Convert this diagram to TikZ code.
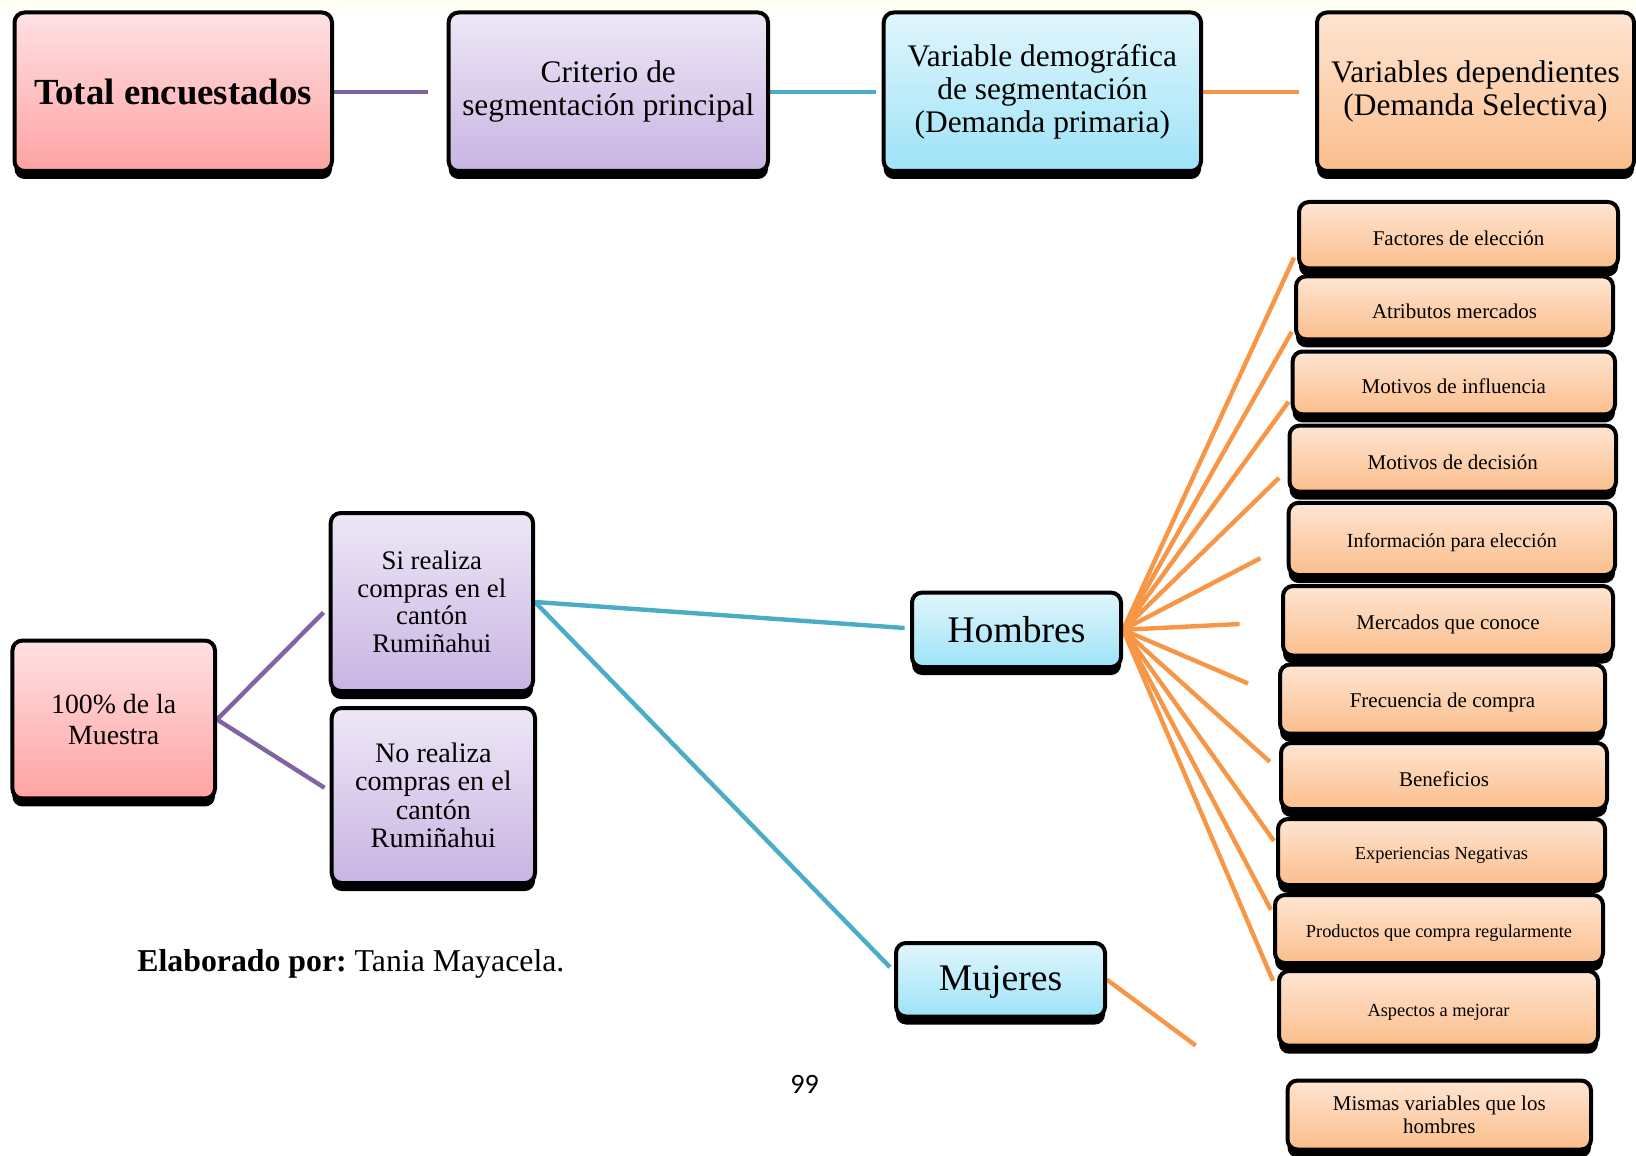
\documentclass[tikz,border=0pt]{standalone}
\usepackage{fontspec}
\setmainfont{Liberation Serif}
\newfontfamily\pagefont{Carlito}
\usetikzlibrary{shadows,backgrounds}
\frenchspacing
\definecolor{cpurple}{HTML}{8064A2}
\definecolor{cblue}{HTML}{4BACC6}
\definecolor{corange}{HTML}{F79646}
\definecolor{pinkT}{HTML}{FFE1E4}
\definecolor{pinkB}{HTML}{FFA2A2}
\definecolor{lilaT}{HTML}{EEE7F6}
\definecolor{lilaB}{HTML}{C8B4E3}
\definecolor{cyanT}{HTML}{E1F6FC}
\definecolor{cyanB}{HTML}{9DE3F8}
\definecolor{oraT}{HTML}{FEE5D2}
\definecolor{oraB}{HTML}{FBBE8C}
\definecolor{cream}{HTML}{FEFEF2}
\newcommand\dn[1]{\raisebox{-1.8pt}[\height][\depth]{#1}}
\tikzset{
  box/.style={rounded corners=5pt, draw=black, line width=2pt,
    drop shadow={opacity=1, fill=black, shadow xshift=0pt, shadow yshift=-4pt},
    align=center, inner sep=0pt, text=black},
  pinkbox/.style={box, top color=pinkT, bottom color=pinkB},
  lilabox/.style={box, top color=lilaT, bottom color=lilaB},
  cyanbox/.style={box, top color=cyanT, bottom color=cyanB},
  orabox/.style={box, top color=oraT, bottom color=oraB},
  toptext/.style={font=\fontsize{15.7}{16.6}\selectfont},
  itemA/.style={orabox, font=\fontsize{10.5}{11.5}\selectfont},
  itemB/.style={orabox, font=\fontsize{9.2}{10.5}\selectfont},
  link/.style={line width=2.2pt},
}
\begin{document}
\begin{tikzpicture}[x=0.5pt,y=-0.5pt]
\useasboundingbox (0,0) rectangle (1636,1155);
\fill[cream] (0,0) rectangle (1636,10);

% top row
\node[pinkbox, minimum width=158.75pt, minimum height=79.25pt,
      font=\bfseries\fontsize{18.4}{20}\selectfont] (total) at (173.25,91.75) {Total encuestados};
\node[lilabox, toptext, minimum width=159.7pt, minimum height=79.25pt] (crit) at (608.3,91.75)
  {Criterio de\\segmentación principal};
\node[cyanbox, toptext, minimum width=158.65pt, minimum height=79.25pt] (vdem) at (1042.35,91.75)
  {Variable demográfica\\de segmentación\\(Demanda primaria)};
\node[orabox, toptext, minimum width=158.5pt, minimum height=79.25pt] (vdep) at (1475.5,91.75)
  {Variables dependientes\\(Demanda Selectiva)};

% left part
\node[pinkbox, minimum width=101.3pt, minimum height=78.95pt,
      font=\fontsize{13.9}{15.25}\selectfont] (muestra) at (113.7,719.5) {100\% de la\\Muestra};
\node[lilabox, minimum width=101.15pt, minimum height=89pt,
      font=\fontsize{13.4}{13.75}\selectfont] (si) at (431.85,602) {Si realiza\\compras en el\\cantón\\Rumiñahui};
\node[lilabox, minimum width=101.65pt, minimum height=87.5pt,
      font=\fontsize{14.1}{14.25}\selectfont] (no) at (433.35,795.5) {No realiza\\compras en el\\cantón\\Rumiñahui};
\node[cyanbox, minimum width=104.5pt, minimum height=37.2pt,
      font=\fontsize{18.8}{20}\selectfont] (hom) at (1016.5,629.8) {Hombres};
\node[cyanbox, minimum width=104.5pt, minimum height=36.75pt,
      font=\fontsize{18.8}{20}\selectfont] (muj) at (1000.5,979.75) {\raisebox{-1pt}[\height][\depth]{Mujeres}};

% right column
\node[itemA, minimum width=159.5pt, minimum height=33.2pt] (r1) at (1458.5,235.2) {\dn{Factores de elección}};
\node[itemA, minimum width=158.5pt, minimum height=31.45pt] (r2) at (1454.5,307.85) {\dn{Atributos mercados}};
\node[itemA, minimum width=161.2pt, minimum height=31.45pt] (r3) at (1453.8,382.95) {\dn{Motivos de influencia}};
\node[itemA, minimum width=163.25pt, minimum height=33.05pt] (r4) at (1452.75,458.65) {\dn{Motivos de decisión}};
\node[orabox, font=\fontsize{10}{11}\selectfont, minimum width=163.2pt, minimum height=36.1pt] (r5) at (1451.8,538.9) {\dn{Información para elección}};
\node[itemA, minimum width=165pt, minimum height=34.75pt] (r6) at (1448,620.75) {\dn{Mercados que conoce}};
\node[itemA, minimum width=162.5pt, minimum height=34.55pt] (r7) at (1442.5,699.15) {\dn{Frecuencia de compra}};
\node[itemA, minimum width=163pt, minimum height=33pt] (r8) at (1444,776) {\dn{Beneficios}};
\node[itemB, minimum width=163.5pt, minimum height=33pt] (r9) at (1441.5,852) {\dn{Experiencias Negativas}};
\node[itemB, minimum width=164pt, minimum height=34pt] (r10) at (1439,929) {\dn{Productos que compra regularmente}};
\node[itemB, minimum width=159.5pt, minimum height=37.35pt] (r11) at (1438.5,1008.35) {\dn{Aspectos a mejorar}};
\node[itemA, minimum width=151.75pt, minimum height=34.5pt] (r12) at (1439.25,1115) {Mismas variables que los\\hombres};

% texts
\node[anchor=base west, inner sep=0pt, font=\fontsize{15.9}{17}\selectfont] (autor) at (137,971)
  {\textbf{Elaborado por:} Tania Mayacela.};
\node[anchor=base, inner sep=0pt, font=\pagefont\fontsize{14}{16}\selectfont] (pag) at (804.5,1093) {99};

% free ends
\coordinate (t1) at (428,91.75);
\coordinate (t2) at (876,91.75);
\coordinate (t3) at (1299,91.75);
\coordinate (m1) at (323.5,612.5);
\coordinate (m2) at (324.5,787.8);
\coordinate (h1) at (904.6,628);
\coordinate (h2) at (890,967.2);
\coordinate (f1) at (1294,257.7);
\coordinate (f2) at (1291.7,331.8);
\coordinate (f3) at (1288.6,401.7);
\coordinate (f4) at (1279,477.9);
\coordinate (f5) at (1260.4,558.2);
\coordinate (f6) at (1239.6,624);
\coordinate (f7) at (1248,683.4);
\coordinate (f8) at (1269.8,761.7);
\coordinate (f9) at (1274,841);
\coordinate (f10) at (1270.9,909.8);
\coordinate (f11) at (1273,980.8);
\coordinate (g1) at (1195.7,1045.5);

\begin{scope}[on background layer]
\draw[link, cpurple] (total.east) -- (t1);
\draw[link, cblue] (crit.east) -- (t2);
\draw[link, corange] (vdem.east) -- (t3);
\draw[link, cpurple] (muestra.east) -- (m1);
\draw[link, cpurple] (muestra.east) -- (m2);
\draw[link, cblue] (si.east) -- (h1);
\draw[link, cblue] (si.east) -- (h2);
\foreach \f in {f1,f2,f3,f4,f5,f6,f7,f8,f9,f10,f11}
  \draw[link, corange] (hom.east) -- (\f);
\draw[link, corange] (muj.east) -- (g1);
\end{scope}
\end{tikzpicture}
\end{document}
